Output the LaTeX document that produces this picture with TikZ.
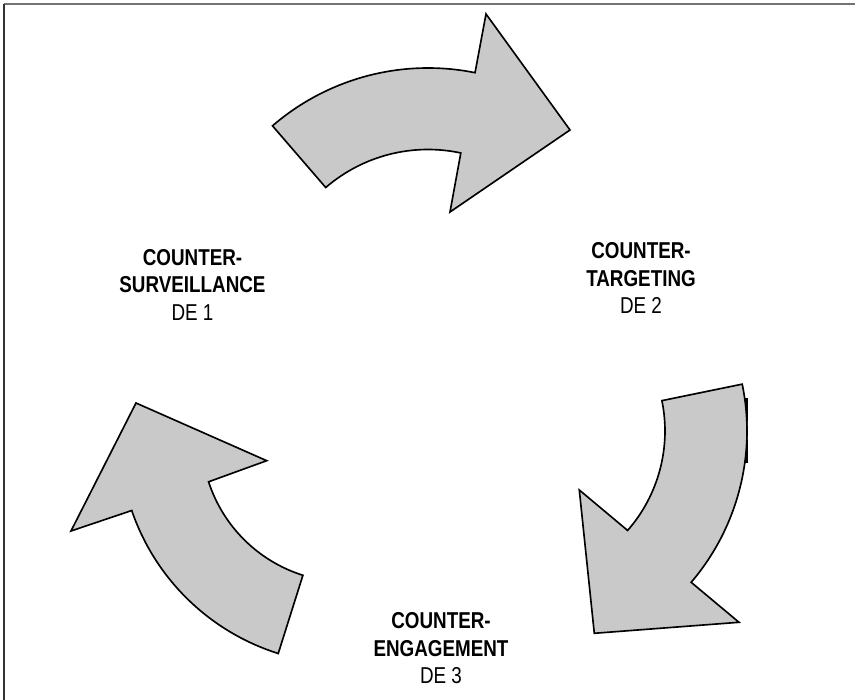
\documentclass[tikz,border=0pt]{standalone}
\usepackage{fontspec}
\setmainfont{Liberation Sans}[FakeStretch=0.82]
\begin{document}
\begin{tikzpicture}[x=0.03cm,y=0.03cm,
  cyclearrow/.style={draw=black,fill=black!21,line width=1.4pt,line join=miter},
  steplabel/.style={align=center,inner sep=0pt,font=\fontsize{19.6}{23.6}\selectfont},
  frameline/.style={line width=1.3pt}]
\useasboundingbox (0,0) rectangle (855,700);

% frame: top and left edges only
\draw[frameline,draw=black!55] (4,696) -- (855,696);
\draw[frameline,draw=black!80] (4,0) -- (4,696);

% dark smear along the outer edge of the right arrow
\draw[line width=3pt,black] (746.5,302) -- (746.5,279);
\draw[line width=2pt,black!60] (746.5,279) -- (746.5,260);
\draw[line width=3pt,black] (746.5,260) -- (746.5,237);

% arrow 1 -> 2 (top)
\draw[cyclearrow] (428,394) ++(130.8:238)
  arc[start angle=130.8,end angle=78.6,radius=238]
  -- (486,686) -- (570,570) -- (450,488)
  -- ([shift={(428,394)}]77.9:156.5)
  arc[start angle=77.9,end angle=130.8,radius=156.5] -- cycle;

% arrow 2 -> 3 (right)
\draw[cyclearrow] (514,269) ++(11.6:233)
  arc[start angle=11.6,end angle=-40.5,radius=233]
  -- (739,77.7) -- (594.3,66.7) -- (579.3,210)
  -- ([shift={(514,269)}]-41.2:151)
  arc[start angle=-41.2,end angle=11.6,radius=151] -- cycle;

% arrow 3 -> 1 (left)
\draw[cyclearrow] (346.5,263) ++(252.5:227)
  arc[start angle=252.5,end angle=198.9,radius=227]
  -- (71,169) -- (136,297) -- (266.7,239.3)
  -- ([shift={(346.5,263)}]198:145)
  arc[start angle=198,end angle=252.5,radius=145] -- cycle;

% step labels
\node[steplabel] (de1) at (192.5,415.3) {\textbf{COUNTER-}\\\textbf{SURVEILLANCE}\\DE 1};
\node[steplabel] (de2) at (641,421.7) {\textbf{COUNTER-}\\\textbf{TARGETING}\\DE 2};
\node[steplabel] (de3) at (441,51.7) {\textbf{COUNTER-}\\\textbf{ENGAGEMENT}\\DE 3};
\end{tikzpicture}
\end{document}
